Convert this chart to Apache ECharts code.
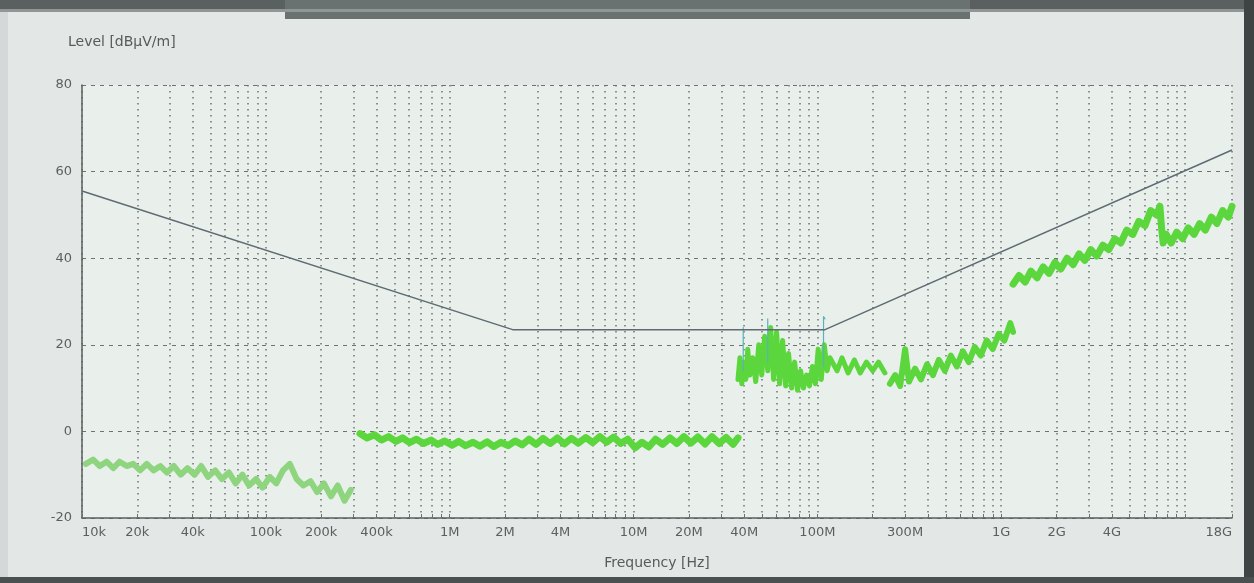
<!DOCTYPE html>
<html>
<head>
<meta charset="utf-8">
<style>
html,body{margin:0;padding:0;background:#e3e8e6;}
#chart{width:1254px;height:583px;}
</style>
<script src="https://cdn.jsdelivr.net/npm/echarts@6/dist/echarts.min.js"></script>
</head>
<body>
<div id="chart"></div>
<script>
// ---- tick labels ----
const xTickValues = [1e4, 2e4, 4e4, 1e5, 2e5, 4e5, 1e6, 2e6, 4e6, 1e7, 2e7, 4e7, 1e8, 3e8, 1e9, 2e9, 4e9, 1.8e10];
const xTickLabels = ['10k','20k','40k','100k','200k','400k','1M','2M','4M','10M','20M','40M','100M','300M','1G','2G','4G','18G'];
const yTickLabels = ['-20','0','20','40','60','80'];

// ---- limit line ----
const limitFreq  = [1e4, 2.2e6, 1.1e8, 1.8e10];
const limitLevel = [55.5, 23.5, 23.5, 65];

// ---- measured trace, band 1 ----
const seg1Freq = [1.05e4,1.15e4,1.25e4,1.36e4,1.48e4,1.6e4,1.75e4,1.9e4,2.07e4,2.25e4,2.45e4,2.67e4,2.9e4,3.16e4,3.44e4,3.75e4,4.1e4,4.45e4,4.85e4,5.3e4,5.77e4,6.3e4,6.85e4,7.46e4,8.1e4,8.85e4,9.6e4,1.05e5,1.14e5,1.24e5,1.35e5,1.47e5,1.6e5,1.75e5,1.9e5,2.07e5,2.26e5,2.46e5,2.68e5,2.9e5];
const seg1Level = [-7.5,-6.5,-8,-7,-8.5,-7,-8,-7.5,-9,-7.5,-9,-8,-9.5,-8,-10,-8.5,-10,-8,-10.5,-9,-11,-9.5,-12,-10,-12.5,-11,-13,-10.5,-12,-9,-7.5,-11,-12.5,-11.5,-14,-12,-15,-12.5,-16,-13.5];

// ---- band 2 ----
const seg2Freq = [3.25e5,3.55e5,3.9e5,4.25e5,4.65e5,5.1e5,5.55e5,6.05e5,6.6e5,7.2e5,7.9e5,8.6e5,9.4e5,1.03e6,1.12e6,1.22e6,1.34e6,1.46e6,1.6e6,1.74e6,1.9e6,2.08e6,2.27e6,2.48e6,2.7e6,2.95e6,3.22e6,3.52e6,3.85e6,4.2e6,4.6e6,5e6,5.5e6,6e6,6.55e6,7.15e6,7.8e6,8.5e6,9.3e6,1.02e7,1.11e7,1.21e7,1.32e7,1.44e7,1.58e7,1.72e7,1.88e7,2.05e7,2.24e7,2.45e7,2.67e7,2.92e7,3.19e7,3.48e7,3.7e7];
const seg2Level = [-0.5,-1.5,-0.8,-2,-1.2,-2.3,-1.5,-2.6,-1.8,-2.8,-2,-3,-2.2,-3.2,-2.3,-3.3,-2.5,-3.4,-2.4,-3.5,-2.5,-3.3,-2.2,-3.1,-1.8,-3,-1.6,-2.8,-1.5,-2.9,-1.6,-2.7,-1.4,-2.6,-1.2,-2.5,-1.3,-2.8,-1.8,-3.8,-2.5,-3.6,-1.8,-3,-1.5,-2.8,-1.2,-2.7,-1.3,-2.9,-1.2,-2.8,-1.4,-3,-1.5];

// ---- band 3 ----
const seg3Freq = [3.7e7,3.79e7,3.88e7,3.98e7,4.08e7,4.18e7,4.29e7,4.45e7,4.62e7,4.8e7,4.98e7,5.17e7,5.37e7,5.57e7,5.78e7,6e7,6.23e7,6.47e7,6.72e7,6.97e7,7.24e7,7.52e7,7.8e7,8.1e7,8.4e7,8.73e7,9.06e7,9.4e7,9.76e7,1.01e8,1.05e8,1.09e8,1.13e8,1.17e8,1.28e8,1.36e8,1.47e8,1.59e8,1.71e8,1.85e8,2e8,2.15e8,2.33e8];
const seg3Level = [12,17,11,16,12,19,13,17,11.5,20,13,22,14,24,12,23,11,21,10.5,18,10,16,9.5,14,10,13,10.5,15,11,19,12,20,14,17,14,17,13.5,16.5,13.5,16,14,16,13.5];

// ---- band 4 ----
const seg4Freq = [2.48e8,2.65e8,2.82e8,3e8,3.15e8,3.4e8,3.66e8,3.95e8,4.25e8,4.58e8,4.94e8,5.32e8,5.74e8,6.18e8,6.66e8,7.18e8,7.74e8,8.34e8,8.99e8,9.69e8,1.04e9,1.12e9,1.16e9];
const seg4Level = [11,13,10.5,19,11.5,14.5,12,15.5,13,16.5,14,17.5,15,18.5,16,19.5,17.5,21,19,22.5,21,25,23];

// ---- band 5 ----
const seg5Freq = [1.16e9,1.25e9,1.35e9,1.45e9,1.57e9,1.69e9,1.82e9,1.96e9,2.11e9,2.28e9,2.46e9,2.65e9,2.85e9,3.07e9,3.31e9,3.57e9,3.85e9,4.15e9,4.47e9,4.82e9,5.2e9,5.6e9,6.05e9,6.5e9,7e9,7.3e9,7.45e9,7.6e9,7.9e9,8.4e9,9e9,9.7e9,1.04e10,1.12e10,1.2e10,1.29e10,1.39e10,1.49e10,1.6e10,1.72e10,1.8e10];
const seg5Level = [34,36,34.5,37,35.5,38,36.5,39,37.5,40,38.5,41,39.5,42,40.5,43,42,44.5,43.5,46.5,45.5,48.5,47.5,51,50,52,47,43.5,45.5,43.5,46,44.5,47,45.5,48,46.5,49.5,48,51,49.5,52];

// ---- thin spikes ----
const spikeFreq  = [3.95e7,3.95e7,null,5.37e7,5.37e7,null,1.08e8,1.08e8,1.1e8];
const spikeLevel = [14,24,null,16,26,null,15,26.5,26];

function zip(a, b) {
  return a.map((v, i) => (v === null ? [NaN, NaN] : [v, b[i]]));
}

// grid positions (1..9 x each decade, plus the axis end)
const xGridValues = [];
for (let e = 4; e <= 10; e++) {
  for (let m = 1; m <= 9; m++) {
    const v = m * Math.pow(10, e);
    if (v < 1.8e10) xGridValues.push(v);
  }
}
xGridValues.push(1.8e10);

const green = '#5bd63c';
const traceStyle = (w, c) => ({
  type: 'line', symbol: 'none', silent: true, z: 3,
  lineStyle: { color: c || green, width: w, join: 'round', cap: 'round' },
  itemStyle: { color: c || green }
});

const chart = echarts.init(document.getElementById('chart'), null, { renderer: 'canvas' });
const font = 'DejaVu Sans';

chart.setOption({
  animation: false,
  backgroundColor: '#e3e8e6',
  grid: { left: 82, right: 22, top: 85, bottom: 65, show: true, backgroundColor: '#e9f0ec', borderWidth: 0 },
  graphic: [
    { type: 'rect', shape: { x: 0, y: 0, width: 1254, height: 9 }, style: { fill: '#59605f' }, z: 10 },
    { type: 'rect', shape: { x: 285, y: 0, width: 685, height: 19 }, style: { fill: '#6a7171' }, z: 10 },
    { type: 'rect', shape: { x: 0, y: 9, width: 1254, height: 3 }, style: { fill: '#8f9695' }, z: 10 },
    { type: 'rect', shape: { x: 1244, y: 0, width: 10, height: 583 }, style: { fill: '#3e4443' }, z: 10 },
    { type: 'rect', shape: { x: 0, y: 577, width: 1254, height: 6 }, style: { fill: '#4a504f' }, z: 10 },
    { type: 'rect', shape: { x: 0, y: 12, width: 8, height: 565 }, style: { fill: '#d4d8d8' }, z: 10 },
    {
      type: 'text', left: 68, top: 35, z: 10,
      style: { text: 'Level [dBµV/m]', font: '14px "DejaVu Sans"', fill: '#555a5a' }
    }
  ],
  xAxis: {
    type: 'log', logBase: 10, min: 1e4, max: 1.8e10,
    name: 'Frequency [Hz]', nameLocation: 'middle', nameGap: 38,
    nameTextStyle: { fontFamily: font, fontSize: 14, color: '#555a5a' },
    axisLine: { show: true, onZero: false, lineStyle: { color: '#5a5f5f', width: 1.5 } },
    axisTick: { show: true, inside: true, length: 4, customValues: xGridValues, lineStyle: { color: '#6a6f6f' } },
    axisLabel: {
      customValues: xTickValues, margin: 8,
      fontFamily: font, fontSize: 13, color: '#5a5f5f',
      alignMinLabel: 'left', alignMaxLabel: 'right',
      formatter: function (v) {
        const i = xTickValues.findIndex(t => Math.abs(t - v) / t < 1e-6);
        return i >= 0 ? xTickLabels[i] : '';
      }
    },
    splitLine: { show: true, lineStyle: { color: '#6d7272', width: 1.5, type: [1.5, 4.5] } },
    minorTick: { show: false }
  },
  yAxis: {
    type: 'value', min: -20, max: 80, interval: 20,
    axisLine: { show: true, lineStyle: { color: '#5a5f5f', width: 1.5 } },
    axisTick: { show: false },
    axisLabel: {
      fontFamily: font, fontSize: 13, color: '#5a5f5f', margin: 10,
      formatter: function (v) { return yTickLabels[Math.round((v + 20) / 20)]; }
    },
    splitLine: { show: true, lineStyle: { color: '#6d7272', width: 1.2, type: [4, 5] } }
  },
  series: [
    Object.assign(traceStyle(6, '#8fd47f'), { name: 'band1', data: zip(seg1Freq, seg1Level) }),
    Object.assign(traceStyle(7), { name: 'band2', data: zip(seg2Freq, seg2Level) }),
    Object.assign(traceStyle(5), { name: 'band3', data: zip(seg3Freq, seg3Level) }),
    Object.assign(traceStyle(6), { name: 'band4', data: zip(seg4Freq, seg4Level) }),
    Object.assign(traceStyle(7), { name: 'band5', data: zip(seg5Freq, seg5Level) }),
    Object.assign(traceStyle(1.2, '#58b3b8'), { name: 'spikes', data: zip(spikeFreq, spikeLevel), connectNulls: false }),
    {
      name: 'limit', type: 'line', symbol: 'none', silent: true, z: 4,
      data: zip(limitFreq, limitLevel),
      lineStyle: { color: '#5e6b72', width: 1.5 }
    }
  ]
});
</script>
</body>
</html>
